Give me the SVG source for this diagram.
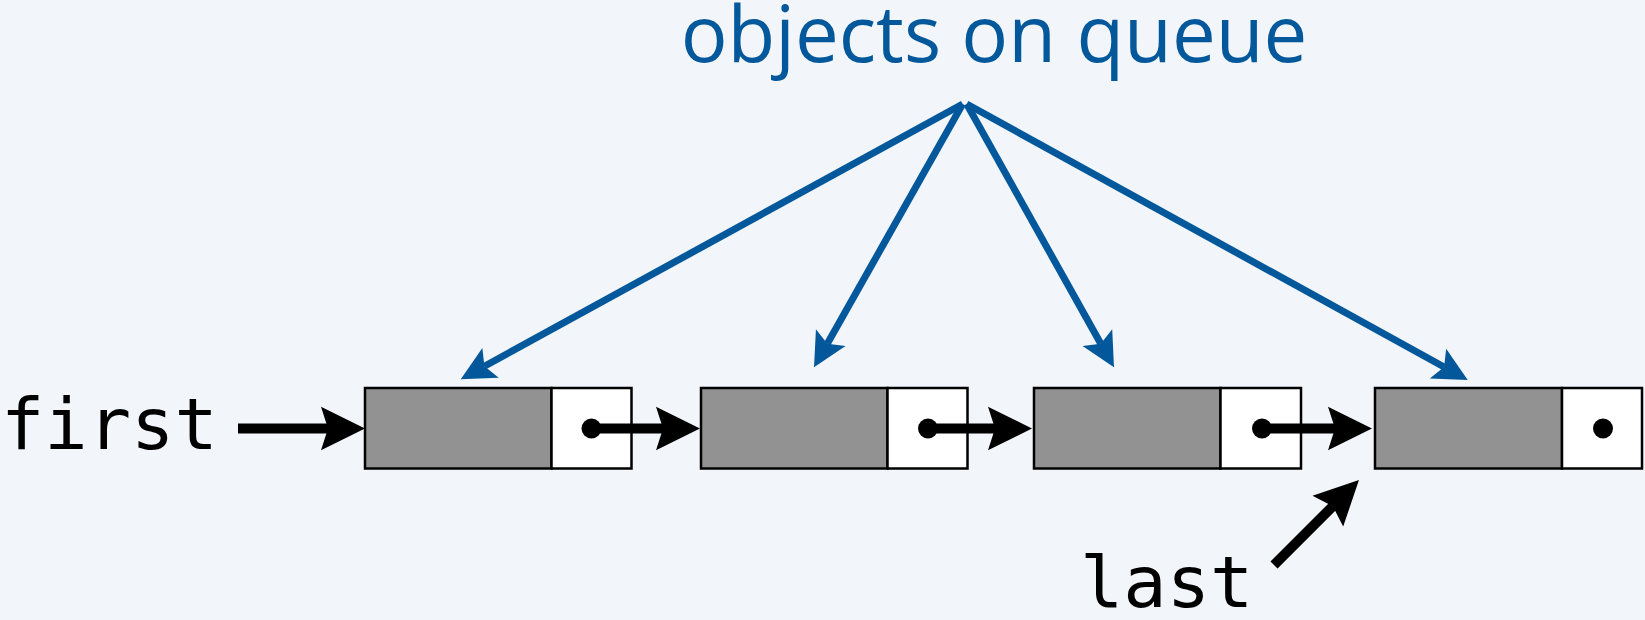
<svg xmlns="http://www.w3.org/2000/svg" width="1645" height="620" viewBox="0 0 1645 620">
  <style>
    .item { fill: #929292; stroke: #000; stroke-width: 2.5; }
    .next { fill: #ffffff; stroke: #000; stroke-width: 2.5; }
    .dot { fill: #000; }
    .ptr { stroke: #000; stroke-width: 10; fill: none; }
    .ref { stroke: #03589b; stroke-width: 7; fill: none; }
    .mono { font-family: "DejaVu Sans Mono", "Liberation Mono", monospace; font-size: 72px; fill: #000; }
    .title { font-family: "Open Sans", "DejaVu Sans", sans-serif; font-size: 78px; fill: #03589b; }
  </style>
  <defs>
    <marker id="headBlack" markerUnits="userSpaceOnUse" markerWidth="60" markerHeight="60" viewBox="-5 -30 60 60" refX="7" refY="0" orient="auto" overflow="visible">
      <path d="M0,-21.7 L44,0 L0,21.7 L7,0 Z" fill="#000"/>
    </marker>
    <marker id="headBlue" markerUnits="userSpaceOnUse" markerWidth="50" markerHeight="50" viewBox="-5 -25 50 50" refX="7" refY="0" orient="auto" overflow="visible">
      <path d="M0,-17 L34,0 L0,17 L7,0 Z" fill="#03589b"/>
    </marker>
  </defs>

  <rect width="1645" height="620" fill="#f2f6fa"/>

  <!-- caption above the list -->
  <text class="title" x="994" y="62" text-anchor="middle">objects on queue</text>

  <!-- list nodes: item cell + next-link cell -->
  <g id="node1">
    <rect class="item" x="365" y="388" width="186.5" height="80.5"/>
    <rect class="next" x="551.5" y="388" width="80" height="80.5"/>
    <circle class="dot" cx="591.5" cy="428.5" r="10"/>
  </g>
  <g id="node2">
    <rect class="item" x="701" y="388" width="186.5" height="80.5"/>
    <rect class="next" x="887.5" y="388" width="80" height="80.5"/>
    <circle class="dot" cx="928" cy="428.5" r="10"/>
  </g>
  <g id="node3">
    <rect class="item" x="1034" y="388" width="186.5" height="80.5"/>
    <rect class="next" x="1220.5" y="388" width="80.5" height="80.5"/>
    <circle class="dot" cx="1262" cy="428.5" r="10"/>
  </g>
  <g id="node4">
    <rect class="item" x="1375" y="388" width="187" height="80.5"/>
    <rect class="next" x="1562" y="388" width="80" height="80.5"/>
    <circle class="dot" cx="1603" cy="428.5" r="10"/>
  </g>

  <!-- head and tail references -->
  <g id="first">
    <text class="mono" x="1" y="449">first</text>
  </g>
  <g id="last">
    <text class="mono" x="1080" y="607">last</text>
  </g>

  <g id="connectors">
    <!-- first / last pointers -->
    <line class="ptr" x1="238" y1="428.5" x2="328" y2="428.5" marker-end="url(#headBlack)"/>
    <line class="ptr" x1="1274" y1="565" x2="1332.8" y2="506.2" marker-end="url(#headBlack)"/>
    <!-- next links -->
    <line class="ptr" x1="591.5" y1="428.5" x2="663" y2="428.5" marker-end="url(#headBlack)"/>
    <line class="ptr" x1="928" y1="428.5" x2="995" y2="428.5" marker-end="url(#headBlack)"/>
    <line class="ptr" x1="1262" y1="428.5" x2="1335" y2="428.5" marker-end="url(#headBlack)"/>
    <!-- caption to each item -->
    <line class="ref" x1="962.7" y1="104" x2="484.4" y2="366.3" marker-end="url(#headBlue)"/>
    <line class="ref" x1="962.7" y1="104" x2="827.3" y2="343.8" marker-end="url(#headBlue)"/>
    <line class="ref" x1="966.7" y1="104" x2="1100.8" y2="343.7" marker-end="url(#headBlue)"/>
    <line class="ref" x1="966.7" y1="104" x2="1444.1" y2="367.0" marker-end="url(#headBlue)"/>
  </g>
</svg>
